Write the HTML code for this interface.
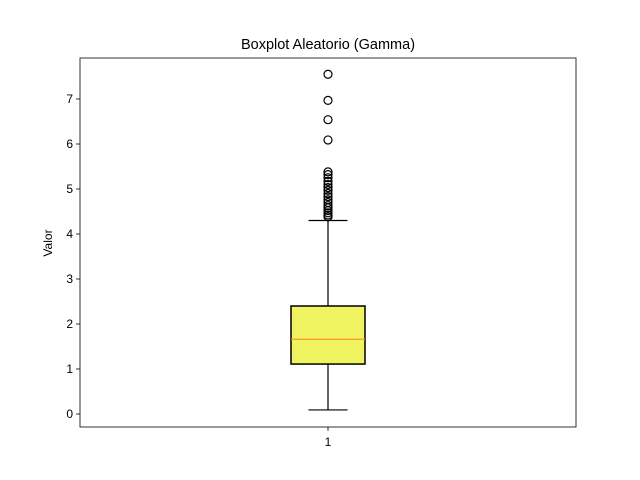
<!DOCTYPE html>
<html><head><meta charset="utf-8"><style>body{margin:0;background:#fff}svg{display:block;font-family:"Liberation Sans","DejaVu Sans",sans-serif}</style></head>
<body>
<svg id="c" width="640" height="480" xmlns="http://www.w3.org/2000/svg"></svg>
<script>
const categories = ["1"];
const q1Values = [1.11];
const medianValues = [1.66];
const q3Values = [2.40];
const whiskerLow = [0.09];
const whiskerHigh = [4.30];
const outliers = [4.38,4.42,4.47,4.52,4.58,4.63,4.70,4.76,4.83,4.90,4.97,5.03,5.10,5.17,5.25,5.32,5.38,6.09,6.54,6.97,7.55];
const yTicks = [0,1,2,3,4,5,6,7];

const svg = document.getElementById('c');
const NS = 'http://www.w3.org/2000/svg';
const L=80,R=576,T=58,B=427;
const y = v => 414 - 45*v;
const x = i => L + (R-L)*(i+1)/(categories.length+1);
function mk(tag, attrs, parent){const e=document.createElementNS(NS,tag);for(const k in attrs)e.setAttribute(k,attrs[k]);(parent||svg).appendChild(e);return e;}

const title = mk('text',{x:328,y:49,'text-anchor':'middle','font-size':14.5,fill:'#000'});
title.textContent='Boxplot Aleatorio (Gamma)';



const yl = mk('text',{x:52,y:243,'text-anchor':'middle','font-size':12,transform:'rotate(-90 52 243)'});
yl.textContent='Valor';



yTicks.forEach(t=>{
  const g = mk('g',{});
  
  
  mk('line',{x1:L-4,x2:L,y1:y(t),y2:y(t),stroke:'#000','stroke-width':0.8},g);
  const tx = mk('text',{x:L-7,y:y(t)+4,'text-anchor':'end','font-size':12},g);
  tx.textContent=t;
});

categories.forEach((c,i)=>{
  const cx = x(i), hw = 37, cw = 19.5;
  const g = mk('g',{});
  
  
  mk('line',{x1:cx,x2:cx,y1:y(q1Values[i]),y2:y(whiskerLow[i]),stroke:'#000','stroke-width':1.2},g);
  mk('line',{x1:cx,x2:cx,y1:y(q3Values[i]),y2:y(whiskerHigh[i]),stroke:'#000','stroke-width':1.2},g);
  mk('line',{x1:cx-cw,x2:cx+cw,y1:y(whiskerLow[i]),y2:y(whiskerLow[i]),stroke:'#000','stroke-width':1.2},g);
  mk('line',{x1:cx-cw,x2:cx+cw,y1:y(whiskerHigh[i]),y2:y(whiskerHigh[i]),stroke:'#000','stroke-width':1.2},g);
  mk('rect',{x:cx-hw,y:y(q3Values[i]),width:2*hw,height:y(q1Values[i])-y(q3Values[i]),fill:'#f0f460',stroke:'#000','stroke-width':1.5},g);
  mk('line',{x1:cx-hw,x2:cx+hw,y1:y(medianValues[i]),y2:y(medianValues[i]),stroke:'#ff8c1a','stroke-width':1.2},g);
  outliers.forEach(v=>{
    const o = mk('circle',{cx:cx,cy:y(v),r:4,fill:'none',stroke:'#000','stroke-width':1.2},g);
    
    
  });
  mk('line',{x1:cx,x2:cx,y1:B,y2:B+4,stroke:'#000','stroke-width':0.8});
  const xt = mk('text',{x:cx,y:B+19,'text-anchor':'middle','font-size':12});
  xt.textContent=c;
  
  
});

const frame = mk('rect',{x:L,y:T,width:R-L,height:B-T,fill:'none',stroke:'#000','stroke-width':0.8});


</script>
</body></html>
